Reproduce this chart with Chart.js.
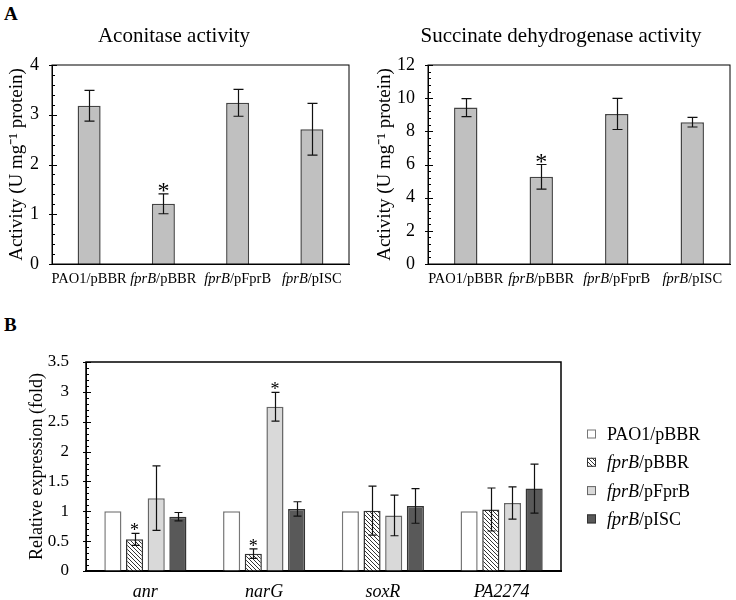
<!DOCTYPE html>
<html>
<head>
<meta charset="utf-8">
<script src="https://cdn.jsdelivr.net/npm/chart.js@4.4.1/dist/chart.umd.min.js"></script>
<style>
body { margin: 0; background: #fff; width: 736px; height: 600px; position: relative; overflow: hidden; font-family: "Liberation Serif", "Times New Roman", serif; }
canvas { position: absolute; }
.panel { position: absolute; font-weight: bold; font-size: 19px; }
</style>
</head>
<body>
<div class="panel" style="left:4px;top:3px">A</div>
<div class="panel" style="left:4px;top:314px">B</div>
<canvas id="aco" style="left:0;top:0" width="368" height="300"></canvas>
<canvas id="sdh" style="left:368px;top:0" width="368" height="300"></canvas>
<canvas id="expr" style="left:0;top:330px" width="736" height="270"></canvas>
<script>
const FONT = '"Liberation Serif", "Times New Roman", serif';

// strains (italic part + plain part)
const strainItalic = ['', 'fprB', 'fprB', 'fprB'];
const strainPlain = ['PAO1/pBBR', '/pBBR', '/pFprB', '/pISC'];

// panel A, aconitase
const aconValues = [3.18, 1.21, 3.24, 2.71];
const aconErrors = [0.31, 0.20, 0.27, 0.52];
const aconSig = [false, true, false, false];

// panel A, succinate dehydrogenase
const sdhValues = [9.43, 5.26, 9.05, 8.55];
const sdhErrors = [0.54, 0.74, 0.94, 0.29];
const sdhSig = [false, true, false, false];

// panel B, relative expression
const genes = ['anr', 'narG', 'soxR', 'PA2274'];
const exprPAO1 = [1, 1, 1, 1];
const exprPBBR = [0.53, 0.29, 1.01, 1.03];
const exprPBBRErr = [0.10, 0.08, 0.41, 0.36];
const exprFprB = [1.22, 2.75, 0.93, 1.14];
const exprFprBErr = [0.54, 0.24, 0.34, 0.27];
const exprISC = [0.91, 1.04, 1.09, 1.38];
const exprISCErr = [0.07, 0.12, 0.29, 0.41];
const sigPBBR = [true, true, false, false];
const sigFprB = [false, true, false, false];

function hatch() {
    const c = document.createElement('canvas');
    c.width = 4; c.height = 4;
    const g = c.getContext('2d');
    g.fillStyle = '#fff';
    g.fillRect(0, 0, 4, 4);
    g.strokeStyle = '#333';
    g.lineWidth = 1;
    g.beginPath();
    g.moveTo(-1, -1); g.lineTo(5, 5);
    g.moveTo(-1, 3); g.lineTo(1, 5);
    g.moveTo(3, -1); g.lineTo(5, 1);
    g.stroke();
    return g.createPattern(c, 'repeat');
}

function drawMixed(ctx, italic, plain, x, y, size, centered) {
    ctx.font = 'italic ' + size + 'px ' + FONT;
    const wi = ctx.measureText(italic).width;
    ctx.font = size + 'px ' + FONT;
    const wp = ctx.measureText(plain).width;
    if (centered) x -= (wi + wp) / 2;
    ctx.textAlign = 'left';
    ctx.textBaseline = 'alphabetic';
    ctx.font = 'italic ' + size + 'px ' + FONT;
    ctx.fillText(italic, x, y);
    ctx.font = size + 'px ' + FONT;
    ctx.fillText(plain, x + wi, y);
}

// frame, minor ticks, error bars, asterisks, mixed-font labels, title, legend
const decor = {
    id: 'decor',
    afterDatasetsDraw(chart, args, o) {
        const ctx = chart.ctx, a = chart.chartArea;
        const ys = chart.scales.y, xs = chart.scales.x;
        ctx.save();
        ctx.fillStyle = '#000';
        ctx.strokeStyle = '#000';
        ctx.lineWidth = o.frameWidth;
        ctx.strokeRect(a.left, a.top, a.right - a.left, a.bottom - a.top);

        ctx.lineWidth = 1;
        ctx.beginPath();
        for (let k = 0; ; k++) {
            const v = ys.min + k * o.minorStep;
            if (v > ys.max + 1e-9) break;
            const r = v / o.majorStep;
            const major = Math.abs(r - Math.round(r)) < 1e-6;
            const py = Math.round(ys.getPixelForValue(v)) + 0.5;
            ctx.moveTo(a.left - (major ? 3 : 0), py);
            ctx.lineTo(a.left + (major ? 5 : 3), py);
        }
        ctx.stroke();

        chart.data.datasets.forEach((ds, d) => {
            const meta = chart.getDatasetMeta(d);
            const errs = o.errors[d], sig = o.sig[d];
            meta.data.forEach((bar, i) => {
                let top = ys.getPixelForValue(ds.data[i]);
                if (errs && errs[i]) {
                    const hi = ys.getPixelForValue(ds.data[i] + errs[i]);
                    const lo = ys.getPixelForValue(ds.data[i] - errs[i]);
                    const x = Math.round(bar.x) + 0.5;
                    ctx.lineWidth = 1.2;
                    ctx.strokeStyle = '#111';
                    ctx.beginPath();
                    ctx.moveTo(x, hi); ctx.lineTo(x, lo);
                    ctx.moveTo(x - o.cap, hi); ctx.lineTo(x + o.cap, hi);
                    ctx.moveTo(x - o.cap, lo); ctx.lineTo(x + o.cap, lo);
                    ctx.stroke();
                    top = hi;
                }
                if (sig && sig[i]) {
                    ctx.font = o.starSize + 'px ' + FONT;
                    ctx.textAlign = 'center';
                    ctx.textBaseline = 'alphabetic';
                    ctx.fillText('*', bar.x, top + o.starShift);
                }
            });
        });

        xs.ticks.forEach((t, i) => {
            drawMixed(ctx, o.xItalic[i], o.xPlain[i], xs.getPixelForTick(i),
                a.bottom + o.labelOffset, o.labelSize, true);
        });

        if (o.title) {
            ctx.font = o.title.size + 'px ' + FONT;
            ctx.textAlign = 'center';
            ctx.textBaseline = 'alphabetic';
            ctx.fillText(o.title.text, o.title.x, o.title.y);
        }

        if (o.legend) {
            const L = o.legend;
            chart.data.datasets.forEach((ds, d) => {
                const cy = L.y + d * L.step;
                ctx.fillStyle = ds.backgroundColor;
                ctx.fillRect(L.x, cy - L.box / 2, L.box, L.box);
                ctx.strokeStyle = ds.borderColor;
                ctx.lineWidth = 1;
                ctx.strokeRect(L.x + 0.5, cy - L.box / 2 + 0.5, L.box - 1, L.box - 1);
                ctx.fillStyle = '#000';
                drawMixed(ctx, strainItalic[d], strainPlain[d], L.x + L.textGap, cy + 6, L.size, false);
            });
        }
        ctx.restore();
    }
};

function activityChart(id, values, errors, sig, max, step, minor, titleText, titleX, yWidth, padRight) {
    return new Chart(document.getElementById(id), {
        type: 'bar',
        data: {
            labels: strainPlain.map((p, i) => strainItalic[i] + p),
            datasets: [{
                data: values,
                backgroundColor: '#c0c0c0',
                borderColor: '#444',
                borderWidth: 1.5,
                barPercentage: 0.31,
                categoryPercentage: 1
            }]
        },
        options: {
            responsive: false,
            animation: false,
            layout: { padding: { top: 65, right: padRight, left: 0, bottom: 0 } },
            plugins: {
                legend: { display: false },
                tooltip: { enabled: false },
                decor: {
                    frameWidth: 1, minorStep: minor, majorStep: step,
                    errors: [errors], sig: [sig], cap: 5,
                    starSize: 24, starShift: 4,
                    xItalic: strainItalic, xPlain: strainPlain,
                    labelOffset: 19, labelSize: 14.5,
                    title: { text: titleText, x: titleX, y: 42, size: 21 }
                }
            },
            scales: {
                x: {
                    grid: { display: false },
                    border: { color: '#000' },
                    ticks: { display: false },
                    afterFit: s => { s.height = 36; }
                },
                y: {
                    min: 0, max: max,
                    grid: { display: false },
                    border: { color: '#000' },
                    ticks: { stepSize: step, color: '#000', padding: 5, font: { family: FONT, size: 18 } },
                    title: {
                        display: true, text: 'Activity (U mg\u207B\u00B9 protein)', color: '#000',
                        font: { family: FONT, size: 19 }, padding: { top: 6, bottom: 0 }
                    },
                    afterFit: s => { s.width = yWidth; }
                }
            }
        },
        plugins: [decor]
    });
}

activityChart('aco', aconValues, aconErrors, aconSig, 4, 1, 0.2, 'Aconitase activity', 174, 52, 19);
activityChart('sdh', sdhValues, sdhErrors, sdhSig, 12, 2, 0.4, 'Succinate dehydrogenase activity', 193, 60, 6);

const hatchFill = hatch();
new Chart(document.getElementById('expr'), {
    type: 'bar',
    data: {
        labels: genes,
        datasets: [
            { data: exprPAO1, backgroundColor: '#ffffff', borderColor: '#777' },
            { data: exprPBBR, backgroundColor: hatchFill, borderColor: '#333' },
            { data: exprFprB, backgroundColor: '#d9d9d9', borderColor: '#666' },
            { data: exprISC, backgroundColor: '#595959', borderColor: '#333' }
        ].map(ds => Object.assign(ds, { borderWidth: 1.5, barPercentage: 0.79, categoryPercentage: 0.73 }))
    },
    options: {
        responsive: false,
        animation: false,
        layout: { padding: { top: 32, right: 175, left: 0, bottom: 0 } },
        plugins: {
            legend: { display: false },
            tooltip: { enabled: false },
            decor: {
                frameWidth: 1.5, minorStep: 0.1, majorStep: 0.5,
                errors: [null, exprPBBRErr, exprFprBErr, exprISCErr],
                sig: [null, sigPBBR, sigFprB, null], cap: 4,
                starSize: 18, starShift: 3,
                xItalic: genes, xPlain: genes.map(() => ''),
                labelOffset: 26, labelSize: 18,
                legend: { x: 587, y: 104, step: 28.3, box: 9, textGap: 20, size: 18 }
            }
        },
        scales: {
            x: {
                grid: { display: false },
                border: { color: '#000', width: 2 },
                ticks: { display: false },
                afterFit: s => { s.height = 29; }
            },
            y: {
                min: 0, max: 3.5,
                grid: { display: false },
                border: { color: '#000' },
                ticks: {
                    stepSize: 0.5, color: '#000', padding: 9, font: { family: FONT, size: 17 },
                    callback: v => String(v)
                },
                title: {
                    display: true, text: 'Relative expression (fold)', color: '#000',
                    font: { family: FONT, size: 18 }, padding: { top: 26, bottom: 0 }
                },
                afterFit: s => { s.width = 86; }
            }
        }
    },
    plugins: [decor]
});
</script>
</body>
</html>
